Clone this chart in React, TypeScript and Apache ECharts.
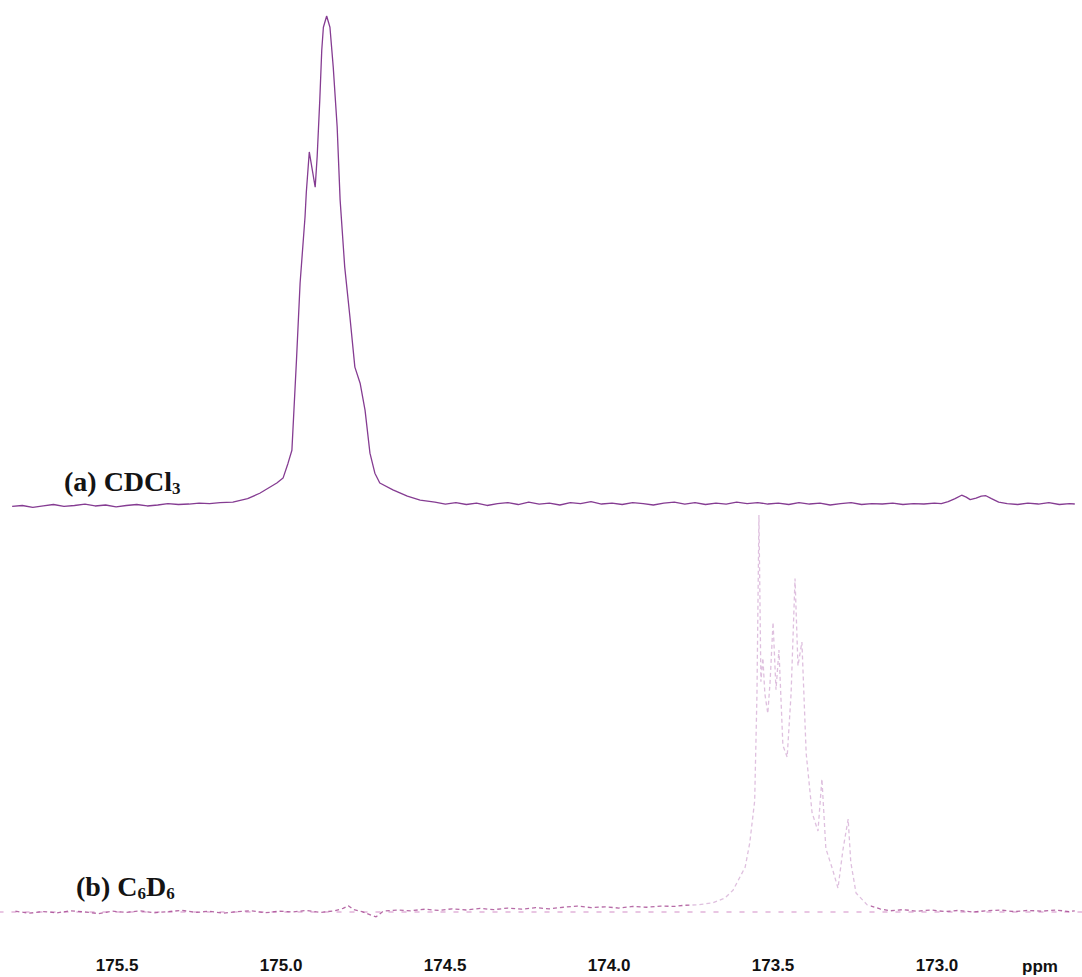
import React, { useEffect, useRef } from "react";
import * as echarts from "echarts";

// Chemical-shift tick labels (ppm)
const ppmTicks = [175.5, 175.0, 174.5, 174.0, 173.5, 173.0];

// (a) carbonyl region recorded in CDCl3
const cdcl3Ppm = [
  175.82, 175.789, 175.757, 175.725, 175.694, 175.662, 175.63, 175.598, 175.567, 175.535,
  175.503, 175.472, 175.44, 175.408, 175.376, 175.345, 175.313, 175.281, 175.25, 175.218,
  175.186, 175.147, 175.102, 175.065, 175.013, 174.994, 174.979, 174.967, 174.953, 174.942,
  174.927, 174.923, 174.914, 174.906, 174.896, 174.89, 174.882, 174.876, 174.871, 174.861,
  174.851, 174.841, 174.829, 174.82, 174.806, 174.79, 174.775, 174.759, 174.744, 174.729,
  174.714, 174.699, 174.659, 174.615, 174.576, 174.531, 174.499, 174.467, 174.435, 174.404,
  174.372, 174.34, 174.309, 174.277, 174.245, 174.213, 174.182, 174.15, 174.118, 174.087,
  174.055, 174.023, 173.991, 173.96, 173.928, 173.896, 173.865, 173.833, 173.801, 173.769,
  173.738, 173.706, 173.674, 173.643, 173.611, 173.579, 173.547, 173.516, 173.484, 173.452,
  173.421, 173.389, 173.357, 173.326, 173.294, 173.262, 173.23, 173.199, 173.167, 173.135,
  173.104, 173.072, 173.04, 173.008, 172.987, 172.966, 172.945, 172.925, 172.911, 172.899,
  172.881, 172.865, 172.851, 172.834, 172.812, 172.786, 172.754, 172.723, 172.691, 172.659,
  172.627, 172.596, 172.58,
];
const cdcl3Intensity = [
  -0.3, -0.1, -0.5, -0.2, 0.1, -0.3, -0.1, 0.2, -0.2, 0.0,
  -0.4, -0.1, 0.1, -0.2, 0.0, 0.3, 0.1, 0.2, 0.4, 0.3,
  0.5, 0.6, 1.3, 2.4, 4.5, 5.5, 8.5, 11.2, 29.7, 45.4,
  58.9, 64.0, 72.2, 69.0, 65.0, 71.2, 82.8, 93.0, 97.7, 100,
  97.7, 89.6, 77.3, 62.4, 48.7, 38.4, 28.2, 24.9, 19.4, 10.6,
  6.5, 4.5, 3.1, 1.8, 1.0, 0.6, 0.2, 0.5, 0.1, 0.4,
  -0.1, 0.3, 0.5, 0.1, 0.6, 0.2, 0.4, 0.0, 0.5, 0.3,
  0.7, 0.2, 0.4, 0.1, 0.5, 0.3, 0.0, 0.4, 0.6, 0.2,
  0.5, 0.1, 0.4, 0.2, 0.6, 0.3, 0.5, 0.2, 0.4, 0.1,
  0.5, 0.2, 0.4, 0.0, 0.3, 0.5, 0.1, 0.3, 0.2, 0.4,
  0.1, 0.3, 0.2, 0.4, 0.3, 0.7, 1.3, 2.0, 1.6, 1.1,
  1.4, 1.8, 1.9, 1.3, 0.6, 0.3, 0.1, 0.4, 0.2, 0.5,
  0.1, 0.3, 0.2,
];

// (b) the same region recorded in C6D6
const c6d6Ppm = [
  175.81, 175.768, 175.725, 175.683, 175.641, 175.598, 175.556, 175.514, 175.472, 175.429,
  175.387, 175.345, 175.302, 175.26, 175.218, 175.176, 175.133, 175.091, 175.049, 175.006,
  174.964, 174.922, 174.88, 174.837, 174.811, 174.795, 174.779, 174.753, 174.726, 174.71,
  174.689, 174.647, 174.605, 174.562, 174.52, 174.478, 174.435, 174.393, 174.351, 174.309,
  174.266, 174.224, 174.182, 174.139, 174.097, 174.055, 174.013, 173.97, 173.928, 173.886,
  173.843, 173.801, 173.769, 173.732, 173.684, 173.647, 173.622, 173.585, 173.571, 173.556,
  173.549, 173.543, 173.537, 173.531, 173.525, 173.516, 173.509, 173.5, 173.491, 173.482,
  173.47, 173.457, 173.445, 173.433, 173.424, 173.412, 173.399, 173.381, 173.363, 173.351,
  173.339, 173.318, 173.302, 173.287, 173.271, 173.263, 173.247, 173.213, 173.174, 173.143,
  173.103, 173.061, 173.019, 172.976, 172.934, 172.892, 172.85, 172.807, 172.765, 172.723,
  172.68, 172.638, 172.596, 172.58,
];
const c6d6Intensity = [
  0.2, -0.3, 0.1, -0.2, 0.3, 0.0, -0.4, 0.2, -0.1, 0.3,
  -0.2, 0.1, 0.4, -0.1, 0.2, -0.3, 0.1, 0.3, -0.2, 0.2,
  0.0, 0.4, -0.1, 0.3, 0.9, 1.6, 0.6, 0.1, -0.8, -1.2,
  0.2, 0.5, 0.3, 0.7, 0.4, 0.8, 0.5, 0.9, 0.6, 1.0,
  0.7, 1.1, 0.8, 1.2, 1.5, 1.1, 1.3, 1.0, 1.4, 1.2,
  1.5, 1.4, 1.7, 1.8, 2.3, 3.5, 5.5, 11.3, 17.4, 28,
  55, 100, 58, 64, 55, 50, 58, 73, 56, 66,
  42, 39, 55, 84, 62, 68, 40, 25, 20.4, 33.5,
  16, 10.6, 6.0, 15.6, 23.4, 12.6, 4.8, 1.8, 0.8, 0.3,
  0.6, 0.2, 0.5, 0.1, 0.4, 0.0, 0.3, 0.5, 0.1, 0.4,
  0.2, 0.5, 0.1, 0.3,
];

const zip = (xs: number[], ys: number[]) => xs.map((x, i) => [x, ys[i]]);

const serifBold = "Liberation Serif, Times New Roman, serif";
const sansBold = "Liberation Sans, Arial, sans-serif";

const labelRich = {
  m: {
    fontSize: 28,
    fontWeight: "bold",
    fontFamily: serifBold,
    lineHeight: 31,
    fill: "#141414",
  },
  s: {
    fontSize: 17,
    fontWeight: "bold",
    fontFamily: serifBold,
    lineHeight: 9,
    verticalAlign: "bottom",
    fill: "#141414",
  },
};

export default function App() {
  const ref = useRef<HTMLDivElement>(null);

  useEffect(() => {
    if (!ref.current) return;
    const chart = echarts.init(ref.current, null, { renderer: "svg" });

    const ppmAxis = {
      type: "value" as const,
      min: 172.558,
      max: 175.857,
      inverse: true,
      splitLine: { show: false },
    };

    chart.setOption({
      animation: false,
      backgroundColor: "#ffffff",
      grid: [
        { left: 0, right: 0, top: 16, height: 513.45 },
        { left: 0, right: 0, top: 515, height: 416.85 },
      ],
      xAxis: [
        { ...ppmAxis, gridIndex: 0, show: false },
        {
          ...ppmAxis,
          gridIndex: 1,
          position: "bottom",
          offset: 13,
          axisLine: {
            show: true,
            lineStyle: { color: "#e2b4da", width: 1.5, type: [4, 9] },
          },
          axisTick: { show: false },
          axisLabel: {
            customValues: ppmTicks,
            formatter: (v: number) => v.toFixed(1),
            margin: 12,
            fontSize: 17,
            fontWeight: "bold",
            fontFamily: sansBold,
            color: "#111111",
          },
        },
      ],
      yAxis: [
        { type: "value", gridIndex: 0, min: -5, max: 100, show: false },
        { type: "value", gridIndex: 1, min: -5, max: 100, show: false },
      ],
      // the C6D6 multiplet is printed much fainter than its baseline
      visualMap: {
        show: false,
        type: "piecewise",
        seriesIndex: 1,
        dimension: 0,
        pieces: [{ gt: 173.2, lt: 173.75, color: "rgba(196,140,196,0.55)" }],
        outOfRange: { color: "rgba(165,70,145,0.8)" },
      },
      series: [
        {
          name: "CDCl3",
          type: "line",
          xAxisIndex: 0,
          yAxisIndex: 0,
          data: zip(cdcl3Ppm, cdcl3Intensity),
          showSymbol: false,
          lineStyle: { color: "#853c92", width: 1.3 },
        },
        {
          name: "C6D6",
          type: "line",
          xAxisIndex: 1,
          yAxisIndex: 1,
          data: zip(c6d6Ppm, c6d6Intensity),
          showSymbol: false,
          lineStyle: { width: 1.3, type: [4, 3] },
        },
      ],
      graphic: [
        {
          type: "text",
          left: 64,
          top: 467,
          style: { text: "{m|(a) CDCl}{s|3}", rich: labelRich },
        },
        {
          type: "text",
          left: 76,
          top: 872,
          style: { text: "{m|(b) C}{s|6}{m|D}{s|6}", rich: labelRich },
        },
        {
          type: "text",
          left: 1022,
          top: 958,
          style: {
            text: "ppm",
            fontSize: 17,
            fontWeight: "bold",
            fontFamily: sansBold,
            fill: "#111111",
          },
        },
      ],
    });

    return () => chart.dispose();
  }, []);

  return (
    <div
      ref={ref}
      style={{ position: "fixed", left: 0, top: 0, width: 1082, height: 977 }}
    />
  );
}
